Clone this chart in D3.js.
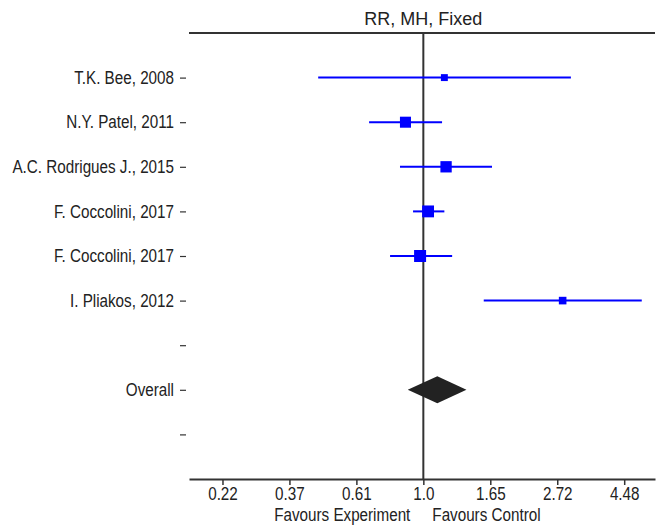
<!DOCTYPE html>
<html>
<head>
<meta charset="utf-8">
<script src="https://cdn.jsdelivr.net/npm/d3@7"></script>
<style>
  body { margin: 0; background: #fff; }
  text { font-family: "Liberation Sans", Arial, sans-serif; }
</style>
</head>
<body>
<div id="chart"></div>
<script>
// rows of the forest plot (blank rows are spacers)
const rowLabels = ["T.K. Bee, 2008", "N.Y. Patel, 2011", "A.C. Rodrigues J., 2015", "F. Coccolini, 2017",
  "F. Coccolini, 2017", "I. Pliakos, 2012", "", "Overall", ""]

// study estimates (risk ratio, 95% CI)
const studies = ["T.K. Bee, 2008", "N.Y. Patel, 2011", "A.C. Rodrigues J., 2015", "F. Coccolini, 2017",
  "F. Coccolini, 2017", "I. Pliakos, 2012"]
const estimates = [1.17, 0.875, 1.185, 1.036, 0.976, 2.83]
const lowers = [0.456, 0.667, 0.84, 0.926, 0.78, 1.57]
const uppers = [3.01, 1.15, 1.67, 1.17, 1.24, 5.11]
const weights = [7.5, 19, 20, 22, 22.5, 9]

const overall = { est: 1.11, lower: 0.89, upper: 1.38 }

const xTicks = [-1.5, -1, -0.5, 0, 0.5, 1, 1.5]
const xTickLabels = ["0.22", "0.37", "0.61", "1.0", "1.65", "2.72", "4.48"]

const width = 659
const height = 526
const margin = { top: 33, right: 4, bottom: 47, left: 189 }
const fontSize = "17.5px"
const squeeze = 0.87 // labels in the reference use a narrow face

const svg = d3.select("#chart")
  .append("svg")
  .attr("width", width)
  .attr("height", height)

const x = d3.scaleLinear()
  .domain([-1.75, 1.73])
  .range([margin.left, width - margin.right])

const y = d3.scalePoint()
  .domain(d3.range(rowLabels.length))
  .range([margin.top, height - margin.bottom])
  .padding(1)

const size = d3.scaleSqrt()
  .domain([0, d3.max(weights)])
  .range([0, 12])

// narrow text placed at (tx, ty)
function narrowText(sel, tx, ty) {
  sel.attr("x", 0)
    .attr("transform", `translate(${tx}, ${ty}) scale(${squeeze}, 1)`)
    .style("font-size", fontSize)
    .attr("fill", "#222")
}

// title
svg.append("text")
  .attr("x", x(0))
  .attr("y", 25)
  .attr("text-anchor", "middle")
  .style("font-size", "18px")
  .attr("fill", "#222")
  .text("RR, MH, Fixed")

// top rule
svg.append("line")
  .attr("x1", margin.left)
  .attr("x2", width - margin.right)
  .attr("y1", margin.top)
  .attr("y2", margin.top)
  .attr("stroke", "#333")
  .attr("stroke-width", 2)

// x axis
const xAxis = svg.append("g")
  .attr("transform", `translate(0, ${height - margin.bottom})`)
  .call(d3.axisBottom(x)
    .tickValues(xTicks)
    .tickFormat((d, i) => xTickLabels[i])
    .tickSize(6)
    .tickSizeOuter(0)
    .tickPadding(3))

xAxis.select(".domain").attr("stroke", "#333").attr("stroke-width", 2)
xAxis.selectAll(".tick line").attr("stroke", "#333").attr("stroke-width", 1.5)
xAxis.selectAll(".tick text").call(narrowText, 0, 0)

// y axis labels
const yAxis = svg.append("g")
  .attr("transform", "translate(186, 0)")
  .call(d3.axisLeft(y)
    .tickFormat(i => rowLabels[i])
    .tickSize(6)
    .tickPadding(6))

yAxis.select(".domain").remove()
yAxis.selectAll(".tick line").attr("stroke", "#333").attr("stroke-width", 1.2)
yAxis.selectAll(".tick text").call(narrowText, -12, 0)

// direction labels
svg.append("text")
  .attr("text-anchor", "end")
  .call(narrowText, x(0) - 13, 521)
  .text("Favours Experiment")

svg.append("text")
  .attr("text-anchor", "start")
  .call(narrowText, x(0) + 9, 521)
  .text("Favours Control")

// line of no effect
svg.append("line")
  .attr("x1", x(0))
  .attr("x2", x(0))
  .attr("y1", margin.top)
  .attr("y2", height - margin.bottom)
  .attr("stroke", "#333")
  .attr("stroke-width", 2)

// studies
const rows = studies.map((s, i) => ({
  row: i, est: estimates[i], lower: lowers[i], upper: uppers[i], w: weights[i]
}))

const g = svg.append("g")

g.selectAll("line.ci")
  .data(rows)
  .join("line")
  .attr("class", "ci")
  .attr("x1", d => x(Math.log(d.lower)))
  .attr("x2", d => x(Math.log(d.upper)))
  .attr("y1", d => y(d.row))
  .attr("y2", d => y(d.row))
  .attr("stroke", "#0000ff")
  .attr("stroke-width", 2)

g.selectAll("rect.est")
  .data(rows)
  .join("rect")
  .attr("class", "est")
  .attr("x", d => x(Math.log(d.est)) - size(d.w) / 2)
  .attr("y", d => y(d.row) - size(d.w) / 2)
  .attr("width", d => size(d.w))
  .attr("height", d => size(d.w))
  .attr("fill", "#0000ff")

// overall diamond
const oy = y(rowLabels.indexOf("Overall"))
const diamond = [
  [x(Math.log(overall.lower)), oy],
  [x(Math.log(overall.est)), oy - 13.5],
  [x(Math.log(overall.upper)), oy],
  [x(Math.log(overall.est)), oy + 13.5]
]

svg.append("polygon")
  .attr("points", diamond.map(p => p.join(",")).join(" "))
  .attr("fill", "#222")
</script>
</body>
</html>
